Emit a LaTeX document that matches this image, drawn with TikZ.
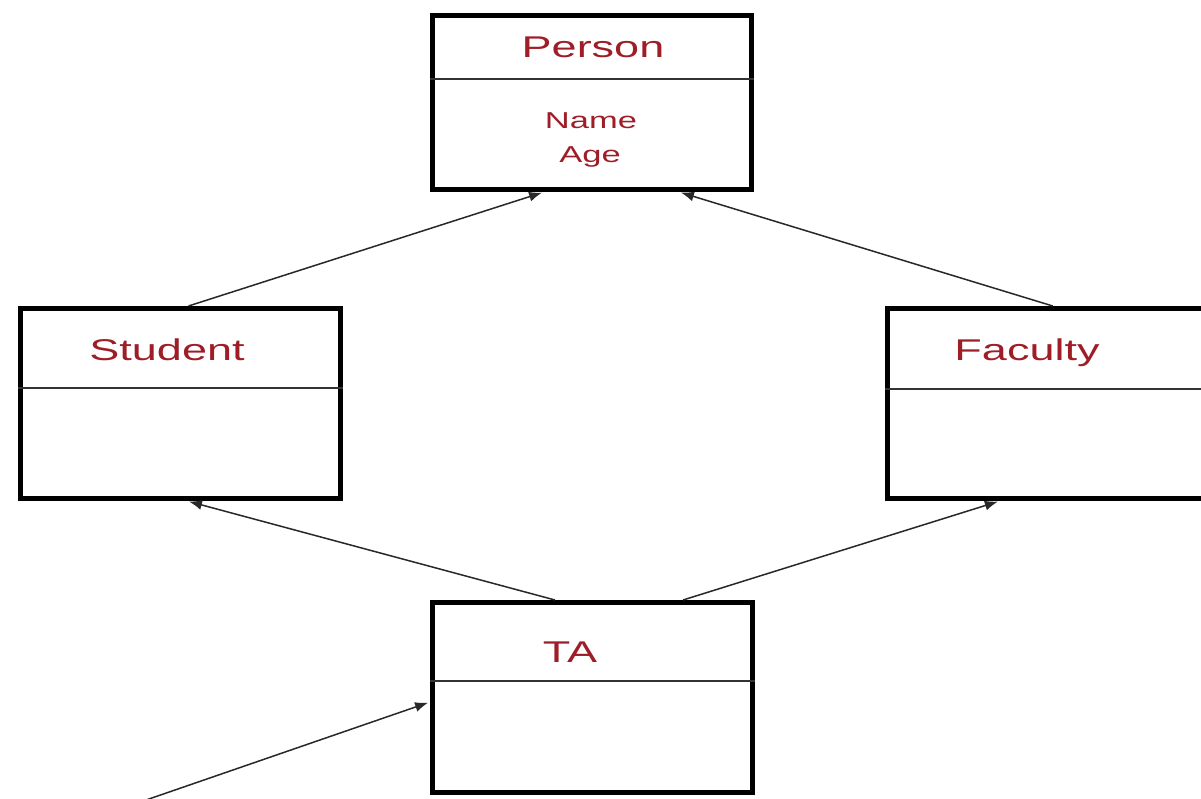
\documentclass[tikz,border=0pt]{standalone}
\usepackage{graphicx}
\usepackage{fontspec}
\setmainfont{Liberation Sans}
\usetikzlibrary{arrows.meta}
\definecolor{classred}{RGB}{158,30,40}
\definecolor{linkgray}{RGB}{40,40,40}
\tikzset{
  classbox/.style={draw=black, line width=5pt, inner sep=0pt, fill=none},
  divider/.style={draw=black!80, line width=1.8pt},
  title/.style={anchor=base, text=classred, inner sep=0pt,
    font=\fontsize{30}{34}\selectfont},
  attr/.style={anchor=base, text=classred, inner sep=0pt,
    font=\fontsize{23}{27}\selectfont},
  inherit/.style={draw=linkgray, line width=1.5pt,
    -{Latex[length=13pt,width=10pt]}, shorten >=2pt}
}
\newcommand{\wide}[1]{\scalebox{1.5}[1]{#1}}
\begin{document}
\begin{tikzpicture}[x=1pt,y=-1pt]
  \useasboundingbox (0,0) rectangle (1201,798);
  \clip (0,0) rectangle (1201,798);

  % class boxes
  \node[classbox, minimum width=319pt, minimum height=174pt] (person)  at (592,102.5) {};
  \node[classbox, minimum width=320pt, minimum height=190pt] (student) at (180.5,403.5) {};
  \node[classbox, minimum width=318.5pt, minimum height=190pt] (faculty) at (1046.75,403.5) {};
  \node[classbox, minimum width=320pt, minimum height=190pt] (ta)      at (592.5,697.5) {};

  % compartment dividers
  \draw[divider] (person.west |- 0,79)  -- (person.east |- 0,79);
  \draw[divider] (student.west |- 0,388) -- (student.east |- 0,388);
  \draw[divider] (faculty.west |- 0,389) -- (faculty.east |- 0,389);
  \draw[divider] (ta.west |- 0,681) -- (ta.east |- 0,681);

  % class names and attributes
  \node[title] (personname)  at (593,57)  {\wide{Person}};
  \node[attr]  (attrname)    at (591,128) {\wide{Name}};
  \node[attr]  (attrage)     at (590,162) {\wide{Age}};
  \node[title] (studentname) at (167,360) {\wide{Student}};
  \node[title] (facultyname) at (1027,360) {\wide{Faculty}};
  \node[title] (taname)      at (570,662) {\wide{TA}};

  % inheritance links
  \draw[inherit] ([xshift=8pt]student.north) -- ([xshift=-48pt]person.south);
  \draw[inherit] ([xshift=6pt]faculty.north) -- ([xshift=87pt]person.south);
  \draw[inherit] ([xshift=-37.5pt]ta.north) -- ([xshift=6.5pt]student.south);
  \draw[inherit] ([xshift=90.5pt]ta.north) -- ([xshift=-47pt]faculty.south);
  \coordinate (lower) at (146,800);
  \draw[inherit] (lower) -- ([yshift=-4.5pt]ta.west);
\end{tikzpicture}
\end{document}
